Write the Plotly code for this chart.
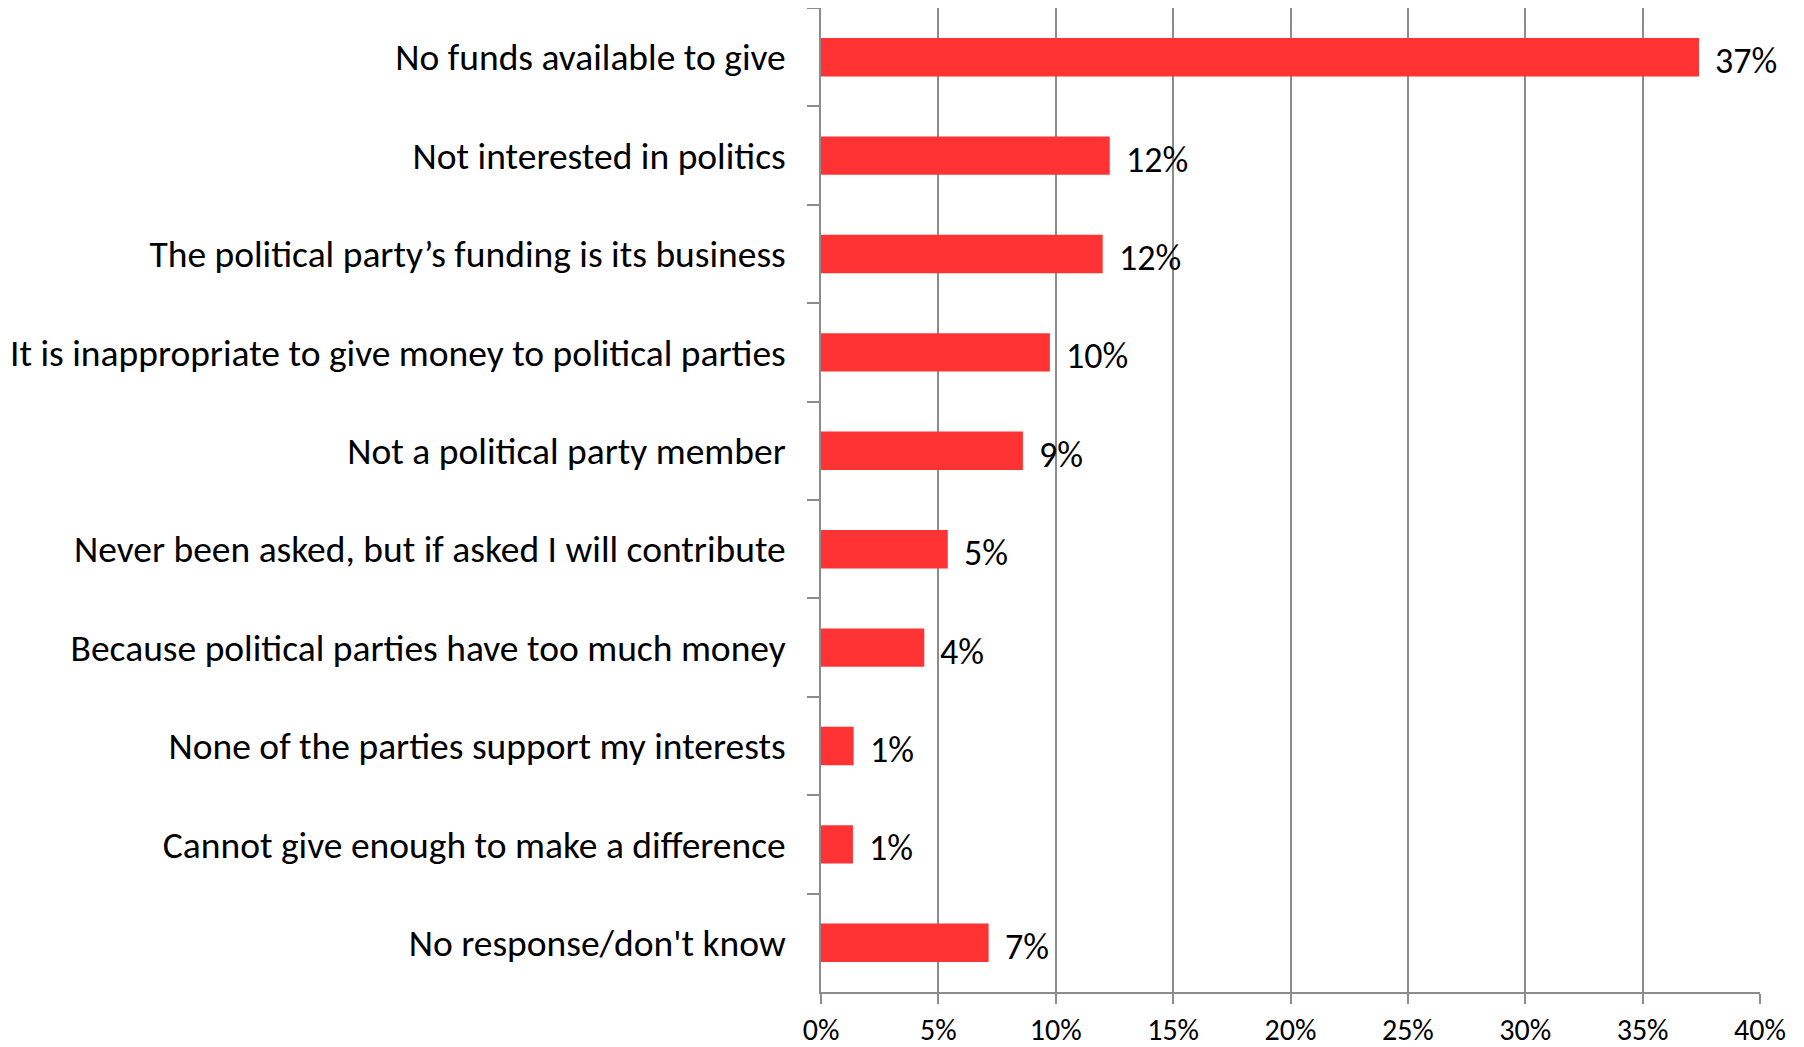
import plotly.graph_objects as go

categories = [
    "No funds available to give",
    "Not interested in politics",
    "The political party’s funding is its business",
    "It is inappropriate to give money to political parties",
    "Not a political party member",
    "Never been asked, but if asked I will contribute",
    "Because political parties have too much money",
    "None of the parties support my interests",
    "Cannot give enough to make a difference",
    "No response/don't know",
]
values = [37.4, 12.3, 12.0, 9.75, 8.6, 5.4, 4.4, 1.39, 1.36, 7.14]
labels = ["37%", "12%", "12%", "10%", "9%", "5%", "4%", "1%", "1%", "7%"]
x_ticks = [0, 5, 10, 15, 20, 25, 30, 35, 40]
x_tick_labels = ["0%", "5%", "10%", "15%", "20%", "25%", "30%", "35%", "40%"]

FONT = "Carlito, Calibri, Lato, sans-serif"
FS_CAT = 37.5
FS_LBL = 36
FS_TICK = 30

fig = go.Figure()
fig.add_trace(go.Bar(
    x=values, y=categories, orientation="h",
    marker=dict(color="#FF3333", line=dict(width=0)),
    hoverinfo="skip",
))
for c, v, t in zip(categories, values, labels):
    fig.add_annotation(x=v, y=c, text=t, showarrow=False, xanchor="left",
                       xshift=14, yshift=-4,
                       font=dict(family=FONT, size=FS_LBL, color="black"))

# page body has an 8px margin, so the figure is shifted by 8px
fig.update_layout(
    width=1796, height=1039,
    margin=dict(l=813, r=44, t=0, b=55),
    paper_bgcolor="white", plot_bgcolor="white",
    bargap=0.61, showlegend=False,
    font=dict(family=FONT, size=FS_CAT, color="black"),
)
fig.update_xaxes(
    range=[0, 40], tickvals=x_ticks, ticktext=x_tick_labels,
    tickfont=dict(family=FONT, size=FS_TICK, color="black"),
    showgrid=True, gridcolor="#8C8C8C", gridwidth=1.5,
    showline=True, linecolor="#8C8C8C", linewidth=1.5,
    ticks="outside", ticklen=10, tickcolor="#8C8C8C", tickwidth=1.5,
    ticklabelstandoff=0, automargin=False,
    zeroline=False, fixedrange=True,
)
fig.update_yaxes(
    categoryorder="array", categoryarray=categories, autorange="reversed",
    tickfont=dict(family=FONT, size=FS_CAT, color="black"),
    showline=True, linecolor="#8C8C8C", linewidth=1.5,
    ticks="outside", ticklen=12, tickcolor="#8C8C8C", tickwidth=1.5,
    tickson="boundaries", ticklabelstandoff=26, automargin=False,
    showgrid=False, zeroline=False, fixedrange=True,
)

fig.write_html("out.html")
